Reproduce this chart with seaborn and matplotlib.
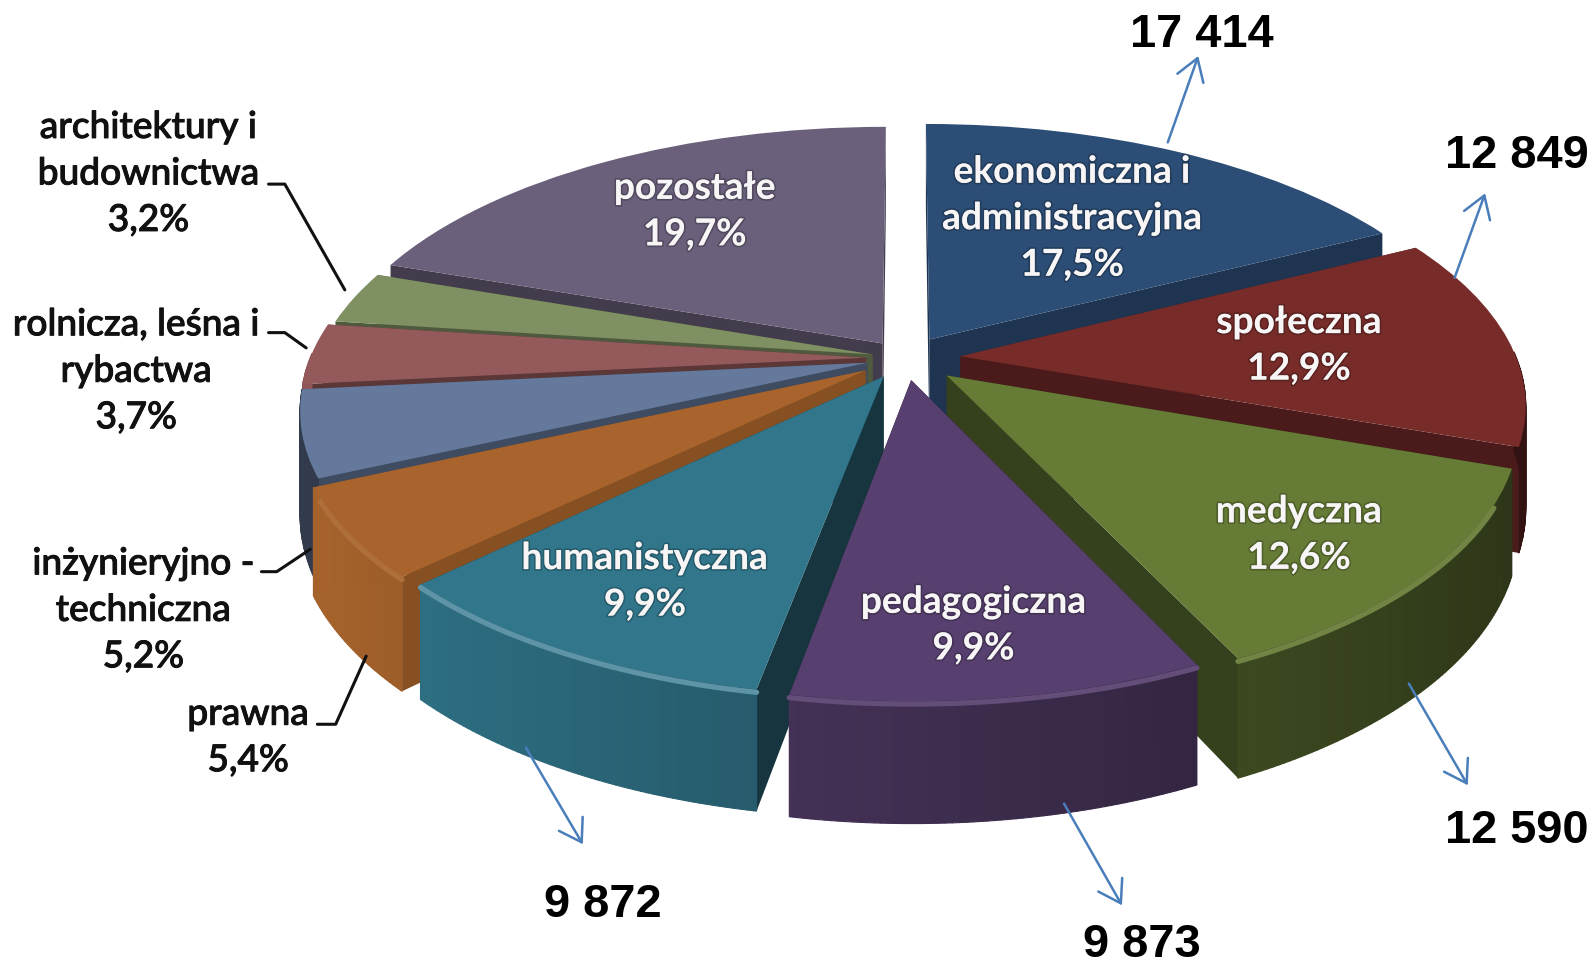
import numpy as np
import matplotlib
matplotlib.use("Agg")
import matplotlib.pyplot as plt
import matplotlib.patheffects as pe
from matplotlib.collections import PolyCollection
from matplotlib.transforms import Transform
import seaborn as sns

categories = ["ekonomiczna i\nadministracyjna", "społeczna", "medyczna", "pedagogiczna",
              "humanistyczna", "prawna", "inżynieryjno -\ntechniczna",
              "rolnicza, leśna i\nrybactwa", "architektury i\nbudownictwa", "pozostałe"]
shares = [17.5, 12.9, 12.6, 9.9, 9.9, 5.4, 5.2, 3.7, 3.2, 19.7]
share_labels = ["17,5%", "12,9%", "12,6%", "9,9%", "9,9%", "5,4%", "5,2%", "3,7%", "3,2%", "19,7%"]
count_labels = ["17 414", "12 849", "12 590", "9 873", "9 872"]

palette = ["#2c4d75", "#772c2a", "#667b36", "#57406f", "#31768b",
           "#a8642c", "#64799b", "#94595a", "#7f9062", "#6b607b"]
explode = [0.085, 0.10, 0.10, 0.085, 0.08, 0.085, 0.07, 0.07, 0.06, 0.07]
side_shade = [0.68, 0.62, 0.52, 0.45, 0.45, 0.80, 0.62, 0.62, 0.62, 0.62]
rim_gain = [1, 1, 1, 1, 1, 1, 0.5, 1, 1, 1]

sns.set_theme(style="white")
W, H = 1595, 969
S = W / 1568
CX, CY, RX, RY, K, DEPTH = 905, 358, 556, 258, 0.17, 100


class Persp(Transform):
    input_dims = output_dims = 2
    is_affine = False
    has_inverse = False

    def transform_non_affine(self, values):
        v = np.asarray(values, dtype=float)
        s = 1 / (1 + K * v[:, 1])
        return np.column_stack([CX + RX * v[:, 0] * s, CY - RY * v[:, 1] * s])


def project(x, y, z=0.0):
    s = 1 / (1 + K * np.asarray(y))
    return np.column_stack([CX + RX * np.asarray(x) * s,
                            CY - RY * np.asarray(y) * s + z * DEPTH * s])


def shade(color, f):
    return tuple(min(1, c * f) for c in matplotlib.colors.to_rgb(color))


def lighten(color, f):
    return tuple(c + (1 - c) * f for c in matplotlib.colors.to_rgb(color))


fig = plt.figure(figsize=(W / 100, H / 100), dpi=100, facecolor="white")
ax = fig.add_axes([0, 0, 1, 1])
wedges, _ = ax.pie(shares, explode=explode, colors=palette, startangle=90,
                   counterclock=False, radius=1, wedgeprops=dict(linewidth=0))
ax.set_aspect("auto")
ax.set_xlim(0, W)
ax.set_ylim(H, 0)
ax.axis("off")
persp = Persp() + ax.transData

order = sorted(range(len(wedges)),
               key=lambda i: -np.sin(np.radians((wedges[i].theta1 + wedges[i].theta2) / 2)))
for rank, i in enumerate(order):
    w = wedges[i]
    base = 10 + rank * 4
    cx0, cy0 = w.center
    col = palette[i]
    # radial cut faces
    for th in (w.theta1, w.theta2):
        px, py = cx0 + np.cos(np.radians(th)), cy0 + np.sin(np.radians(th))
        quad = np.vstack([project(cx0, cy0, 0), project(px, py, 0),
                          project(px, py, 1), project(cx0, cy0, 1)])
        ax.add_collection(PolyCollection([quad], facecolors=[shade(col, side_shade[i])],
                                         edgecolors="none", zorder=base))
    # outer rim facing the viewer
    ths = np.arange(w.theta1, w.theta2 + 0.01, 0.6)
    if ths[-1] < w.theta2:
        ths = np.append(ths, w.theta2)
    quads, cols = [], []
    for a, b in zip(ths[:-1], ths[1:]):
        m = np.radians((a + b) / 2)
        if np.sin(m) > 0.02:
            continue
        ax_, bx = np.cos(np.radians([a, b]))
        ay, by = np.sin(np.radians([a, b]))
        top = project(cx0 + np.array([ax_, bx]), cy0 + np.array([ay, by]), 0)
        bot = project(cx0 + np.array([bx, ax_]), cy0 + np.array([by, ay]), 1)
        quads.append(np.vstack([top, bot]))
        f = float(np.clip(0.72 - 0.30 * np.cos(m), 0.35, 0.98)) * rim_gain[i]
        cols.append(shade(col, f))
    if quads:
        ax.add_collection(PolyCollection(quads, facecolors=cols, edgecolors=cols,
                                         linewidths=0.8, zorder=base + 1))
    w.set_transform(persp)
    w.set_zorder(base + 2)
    # bevel highlight on the front rim
    mask = np.sin(np.radians(ths)) < -0.45
    if mask.sum() > 1:
        arc = project(cx0 + np.cos(np.radians(ths[mask])), cy0 + np.sin(np.radians(ths[mask])), 0.025)
        hl = lighten(col, 0.22 if i == 4 else 0.07)
        ax.plot(arc[:, 0], arc[:, 1], color=hl, lw=3.8, solid_capstyle="round", zorder=base + 3)

# labels on the slices
glow = [pe.withStroke(linewidth=2.5, foreground=(0, 0, 0, 0.22))]
inner = {0: (1054, 215), 1: (1277, 340), 2: (1277, 526), 3: (957, 615), 4: (634, 572), 9: (683, 208)}
for i, (x, y) in inner.items():
    ax.text(x * S, y * S, categories[i] + "\n" + share_labels[i], ha="center", va="center",
            color="#f7f5f5", fontsize=26.7, fontweight="bold", family="Lato", linespacing=1.5,
            zorder=80, path_effects=glow)

# labels outside the pie
ink = [pe.withStroke(linewidth=0.7, foreground="#111111")]
outer = {5: (244, 725), 6: (141, 600), 7: (134, 365), 8: (146, 171)}
for i, (x, y) in outer.items():
    ax.text(x * S, y * S, categories[i] + "\n" + share_labels[i], ha="center", va="center",
            color="#111111", fontsize=26.7, fontweight="medium", family="Lato", linespacing=1.5,
            zorder=80, path_effects=ink)

leaders = [[(264, 181), (280, 181), (339, 285)], [(264, 327), (280, 327), (301, 342)],
           [(257, 562), (272, 562), (305, 540)], [(312, 712), (330, 712), (360, 645)]]
for pts in leaders:
    p = np.array(pts) * S
    ax.plot(p[:, 0], p[:, 1], color="#111111", lw=2.2, zorder=70)

# counts and arrows
count_pos = [(1181, 34), (1491, 153), (1491, 817), (1123, 929), (593, 890)]
arrows = [((1148, 140), (1178, 55)), ((1430, 273), (1460, 190)), ((1385, 672), (1443, 772)),
          ((1046, 790), (1103, 890)), ((517, 735), (573, 830))]
for lab, (x, y), (a, b) in zip(count_labels, count_pos, arrows):
    ax.text(x * S, y * S, lab, ha="center", va="center", color="black", fontsize=33.8,
            fontweight="bold", family="Liberation Sans", zorder=90)
    ax.annotate("", xy=(b[0] * S, b[1] * S), xytext=(a[0] * S, a[1] * S), zorder=85,
                arrowprops=dict(arrowstyle="->,head_length=0.7,head_width=0.45", color="#4a7ebb",
                                lw=1.8, mutation_scale=22, shrinkA=0, shrinkB=0))

fig.savefig("out.png", dpi=100, facecolor="white")
